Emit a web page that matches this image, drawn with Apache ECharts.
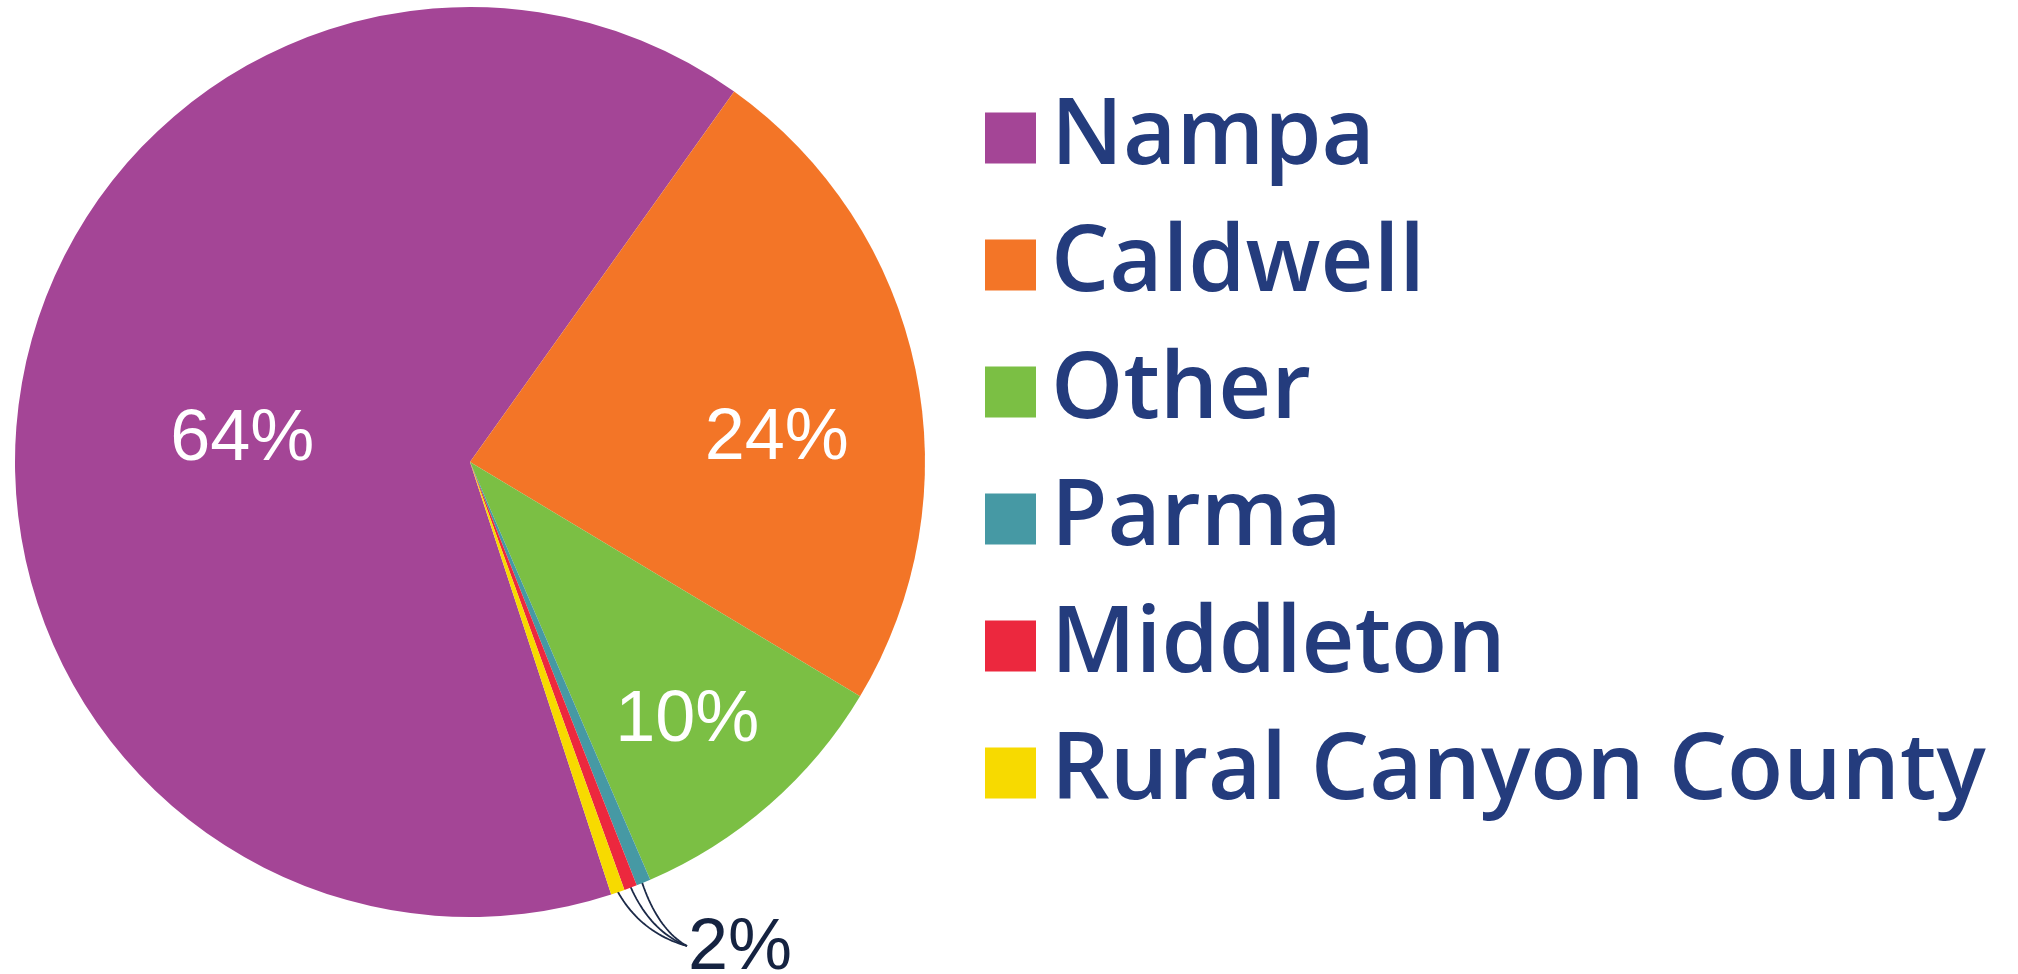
<!DOCTYPE html>
<html>
<head>
<meta charset="UTF-8">
<title>Canyon County share</title>
<script src="https://cdn.jsdelivr.net/npm/echarts@6/dist/echarts.min.js"></script>
<style>
  html, body { margin: 0; padding: 0; background: #fff; }
  #main { width: 2018px; height: 974px; }
</style>
</head>
<body>
<div id="main"></div>
<script type="text/javascript">
// data (share of the whole, %)
var names = ['Nampa', 'Caldwell', 'Other', 'Parma', 'Middleton', 'Rural Canyon County'];
var shares = [64.88, 23.75, 9.91, 0.51, 0.46, 0.49];
var pctLabels = ['64%', '24%', '10%', '2%', '2%', '2%'];
var colors = ['#a44596', '#f37527', '#7bbf44', '#4699a4', '#ec283e', '#f7da00'];

// pie geometry (px), START = where Nampa begins, clockwise from north
var CX = 470, CY = 462, R = 455, START = 161.92;
// inside labels: [radius fraction, angle offset from slice middle]
var insidePos = [[0.503, -3.2], [0.676, 7.5], [0.743, 1.2]];
// where the leader lines leave the small slices (radius fraction)
var leaderStart = { 3: 0.968, 4: 0.98, 5: 0.997 };
var callout = [688, 949];

var total = shares.reduce(function (a, b) { return a + b; }, 0);

function midAngle(i) {
  var before = 0;
  for (var j = 0; j < i; j++) before += shares[j];
  return START + (before + shares[i] / 2) / total * 360;
}
function polar(rf, deg) {
  var a = deg * Math.PI / 180;
  return [CX + R * rf * Math.sin(a), CY - R * rf * Math.cos(a)];
}
// sampled quadratic curve so the leader reads as a smooth arc
function arc(s, e) {
  var q = [s[0] + (e[0] - s[0]) * 0.33, e[1] - (e[1] - s[1]) * 0.24];
  var pts = [];
  for (var k = 0; k <= 24; k++) {
    var t = k / 24, u = 1 - t;
    pts.push([u * u * s[0] + 2 * u * t * q[0] + t * t * e[0],
              u * u * s[1] + 2 * u * t * q[1] + t * t * e[1]]);
  }
  return pts;
}

var pieData = names.map(function (n, i) {
  var item = { name: n, value: shares[i], itemStyle: { color: colors[i] } };
  if (i < 3) {
    item.label = { position: 'inside', color: '#ffffff' };
    item.labelLine = { show: false };
  } else if (i < 5) {
    item.label = { color: 'rgba(0,0,0,0)' };
  }
  return item;
});

var myChart = echarts.init(document.getElementById('main'));

option = {
  animation: false,
  legend: {
    orient: 'vertical',
    left: 985,
    top: 80,
    padding: 0,
    itemGap: 11,
    itemWidth: 51,
    itemHeight: 51,
    icon: 'rect',
    selectedMode: false,
    data: names,
    textStyle: {
      fontFamily: 'Open Sans',
      fontWeight: 600,
      fontSize: 92,
      lineHeight: 100,
      color: '#243c7d',
      padding: [0, 0, 16, 10]
    }
  },
  series: [
    {
      type: 'pie',
      center: [CX, CY],
      radius: R,
      startAngle: 90 - START,
      clockwise: true,
      avoidLabelOverlap: false,
      itemStyle: { borderWidth: 0 },
      emphasis: { disabled: true },
      label: {
        show: true,
        position: 'outside',
        fontFamily: 'Liberation Sans',
        fontSize: 72,
        color: '#152341',
        formatter: function (p) { return pctLabels[p.dataIndex]; }
      },
      labelLine: {
        show: true,
        smooth: 0,
        lineStyle: { color: '#1c2a48', width: 1.8 }
      },
      labelLayout: function (p) {
        var i = p.dataIndex;
        var mid = midAngle(i);
        if (i < 3) {
          var pt = polar(insidePos[i][0], mid + insidePos[i][1]);
          return { x: pt[0], y: pt[1], align: 'center', verticalAlign: 'middle' };
        }
        var s = polar(leaderStart[i], mid);
        var e = [callout[0] - 1, callout[1] - 3];
        return {
          x: callout[0], y: callout[1], align: 'left', verticalAlign: 'middle',
          labelLinePoints: arc(s, e)
        };
      },
      data: pieData
    }
  ]
};
myChart.setOption(option);
</script>
</body>
</html>
